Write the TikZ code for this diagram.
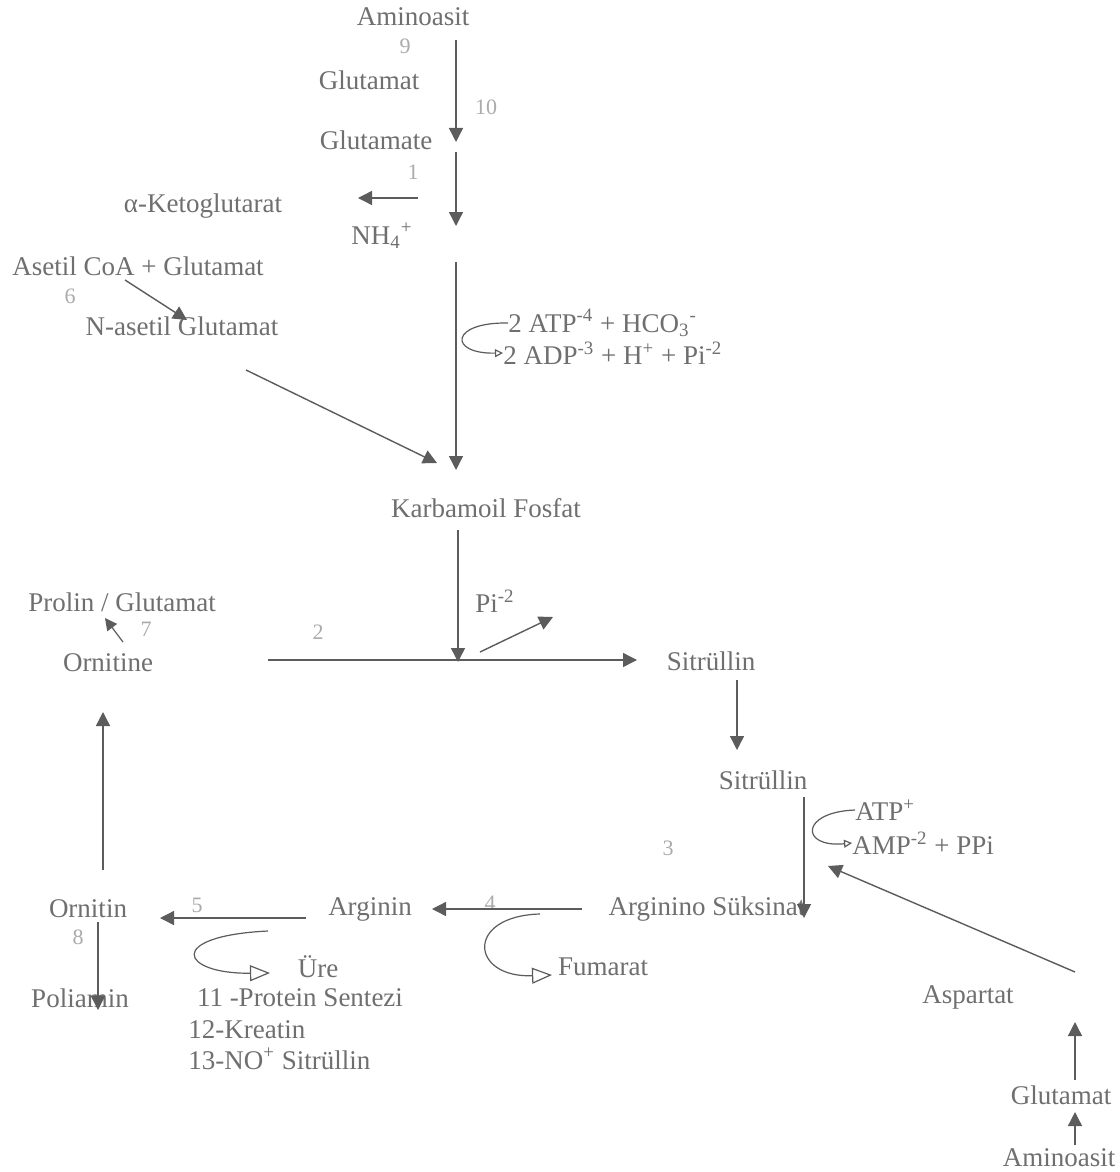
\documentclass[tikz,border=0pt]{standalone}
\usepackage{fontspec}
\setmainfont{Liberation Serif}
\usetikzlibrary{arrows.meta}
\definecolor{txtg}{HTML}{6F6F6F}
\definecolor{arrg}{HTML}{5C5C5C}
\definecolor{numg}{HTML}{ABABAB}
\tikzset{
  lb/.style={text=txtg,font=\fontsize{13.5}{15}\selectfont,inner sep=0pt},
  nm/.style={text=numg,font=\fontsize{11}{12}\selectfont,inner sep=0pt},
  ar/.style={-{Triangle[length=7pt,width=7pt]},line width=0.7pt,arrg},
  ars/.style={-{Triangle[length=6pt,width=6pt]},line width=0.6pt,arrg},
  cv/.style={-{Triangle[open,length=4pt,width=4pt]},line width=0.6pt,arrg},
  cvb/.style={-{Triangle[open,length=10pt,width=8pt]},line width=0.6pt,arrg}
}
\newcommand{\sps}[1]{\textsuperscript{#1}}
\newcommand{\sbs}[1]{\textsubscript{#1}}

\begin{document}
\begin{tikzpicture}[x=0.5pt,y=-0.5pt]
\useasboundingbox (0,0) rectangle (1119,1172);
\fill[white] (0,0) rectangle (1119,1172);
% top: amino acid -> NH4+
\node[lb] (amA) at (413,17) {Aminoasit};
\node[nm] (n9) at (405,46) {9};
\node[lb] (gluA) at (369,80) {Glutamat};
\node[nm] (n10) at (486,107) {10};
\node[lb] (glute) at (376,140) {Glutamate};
\node[nm] (n1) at (413,172) {1};
\node[lb] (keto) at (203,206) {α-Ketoglutarat};
\node[lb] (nh4) at (382,236) {NH\sbs{4}\sps{+}};
\node[lb] (asetil) at (138,266) {Asetil CoA + Glutamat};
\node[nm] (n6) at (70,296) {6};
\node[lb] (nase) at (182,326) {N-asetil Glutamat};
\node[lb,anchor=west] (atp1) at (508,323) {2 ATP\sps{-4} + HCO\sbs{3}\sps{-}};
\node[lb,anchor=west] (adp1) at (503,353) {2 ADP\sps{-3} + H\sps{+} + Pi\sps{-2}};
\node[lb] (karb) at (486,508) {Karbamoil Fosfat};
% middle
\node[lb] (pi) at (495,601) {Pi\sps{-2}};
\node[nm] (n2) at (318,632) {2};
\node[lb] (prolin) at (122,602) {Prolin / Glutamat};
\node[nm] (n7) at (146,629) {7};
\node[lb] (ornE) at (108,663) {Ornitine};
\node[lb] (sit1) at (711,661) {Sitrüllin};
\node[lb] (sit2) at (763,780) {Sitrüllin};
\node[lb,anchor=west] (atp2) at (855,810) {ATP\sps{+}};
\node[lb,anchor=west] (amp) at (852,843) {AMP\sps{-2} + PPi};
\node[nm] (n3) at (668,848) {3};
% bottom row
\node[lb] (argsuk) at (707,909) {Arginino Süksinat};
\node[lb] (arg) at (370,909) {Arginin};
\node[nm] (n4) at (490,903) {4};
\node[lb] (orn) at (88,909) {Ornitin};
\node[nm] (n5) at (197,905) {5};
\node[nm] (n8) at (78,937) {8};
\node[lb] (fum) at (603,967) {Fumarat};
\node[lb] (ure) at (318,967) {Üre};
\node[lb] (poli) at (80,998) {Poliamin};
\node[lb] (prot) at (300,998) {11 -Protein Sentezi};
\node[lb,anchor=west] (kreat) at (188,1030) {12-Kreatin};
\node[lb,anchor=west] (nosit) at (188,1059) {13-NO\sps{+} Sitrüllin};
\node[lb] (asp) at (968,997) {Aspartat};
\node[lb] (gluB) at (1061,1095) {Glutamat};
\node[lb] (amB) at (1059,1158) {Aminoasit};

% shaft ends
\coordinate (t1) at (456,40);
\coordinate (t2) at (456,142);
\coordinate (t3) at (456,152);
\coordinate (t4) at (456,226);
\coordinate (k1) at (418,198);
\coordinate (k2) at (358,198);
\coordinate (c1) at (456,262);
\coordinate (c2) at (456,470);
\coordinate (na1) at (125,280);
\coordinate (na2) at (187,320);
\coordinate (na3) at (246,370);
\coordinate (na4) at (437,463);
\coordinate (kf1) at (458,530);
\coordinate (jn) at (458,662);
\coordinate (p1) at (480,652);
\coordinate (p2) at (553,617);
\coordinate (h1) at (268,660);
\coordinate (h2) at (637,660);
\coordinate (o1) at (123,642);
\coordinate (o2) at (105,618);
\coordinate (s1) at (737,680);
\coordinate (s2) at (737,750);
\coordinate (s3) at (804,797);
\coordinate (s4) at (804,918);
\coordinate (as1) at (1075,972);
\coordinate (as2) at (828,866);
\coordinate (g1) at (582,909);
\coordinate (g2) at (432,909);
\coordinate (r1) at (306,918);
\coordinate (r2) at (160,918);
\coordinate (pl1) at (98,922);
\coordinate (pl2) at (98,1010);
\coordinate (u1) at (103,870);
\coordinate (u2) at (103,712);
\coordinate (gb1) at (1075,1080);
\coordinate (gb2) at (1075,1022);
\coordinate (ab1) at (1075,1145);
\coordinate (ab2) at (1075,1112);

\draw[ar] (t1) -- (t2);
\draw[ar] (t3) -- (t4);
\draw[ar] (k1) -- (k2);
\draw[ar] (c1) -- (c2);
\draw[ar] (na1) -- (na2);
\draw[ar] (na3) -- (na4);
\draw[ar] (kf1) -- (jn);
\draw[ar] (p1) -- (p2);
\draw[ar] (h1) -- (h2);
\draw[ars] (o1) -- (o2);
\draw[ar] (s1) -- (s2);
\draw[ar] (s3) -- (s4);
\draw[ar] (as1) -- (as2);
\draw[ar] (g1) -- (g2);
\draw[ar] (r1) -- (r2);
\draw[ar] (pl1) -- (pl2);
\draw[ar] (u1) -- (u2);
\draw[ar] (gb1) -- (gb2);
\draw[ar] (ab1) -- (ab2);
% side reactions
\draw[cv] (atp1.west) .. controls (450,322) and (448,354) .. (adp1.west);
\draw[cv] (atp2.west) .. controls (800,812) and (800,848) .. (amp.west);
\draw[cvb] (540,914) .. controls (465,916) and (470,978) .. (552,975);
\draw[cvb] (268,931) .. controls (165,936) and (180,974) .. (270,973);
\end{tikzpicture}
\end{document}
